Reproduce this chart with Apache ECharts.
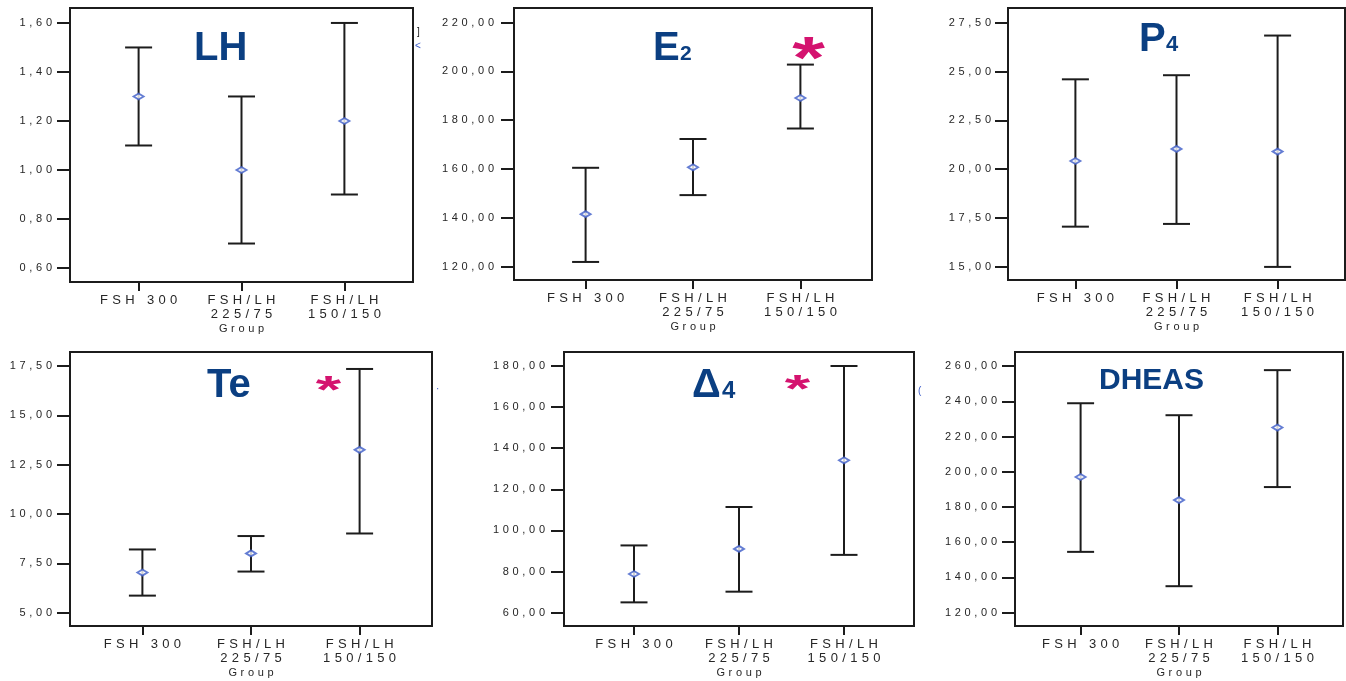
<!DOCTYPE html>
<html>
<head>
<meta charset="utf-8">
<title>Hormone levels by stimulation group</title>
<script src="https://cdn.jsdelivr.net/npm/echarts@6/dist/echarts.min.js"></script>
<style>
  html, body { margin: 0; padding: 0; background: #fff; }
  #chart { width: 1346px; height: 681px; }
</style>
</head>
<body>
<div id="chart"></div>
<script>
// Treatment groups on the x axis
const groups = ['FSH 300', 'FSH/LH\n225/75', 'FSH/LH\n150/150'];

// LH: mean with lower / upper interval bounds
const lhMean = [1.30, 1.00, 1.20];
const lhLow  = [1.10, 0.70, 0.90];
const lhHigh = [1.50, 1.30, 1.60];
const lhTicks = [0.60, 0.80, 1.00, 1.20, 1.40, 1.60];

// E2
const e2Mean = [141.5, 160.7, 189.1];
const e2Low  = [121.9, 149.3, 176.6];
const e2High = [160.5, 172.3, 202.8];
const e2Ticks = [120, 140, 160, 180, 200, 220];

// P4
const p4Mean = [20.42, 21.04, 20.90];
const p4Low  = [17.06, 17.20, 15.00];
const p4High = [24.60, 24.81, 26.84];
const p4Ticks = [15.0, 17.5, 20.0, 22.5, 25.0, 27.5];

// Testosterone
const teMean = [7.03, 8.00, 13.25];
const teLow  = [5.86, 7.08, 9.01];
const teHigh = [8.20, 8.88, 17.35];
const teTicks = [5.0, 7.5, 10.0, 12.5, 15.0, 17.5];

// Androstenedione
const a4Mean = [78.8, 91.0, 134.1];
const a4Low  = [65.0, 70.2, 88.1];
const a4High = [92.7, 111.4, 180.0];
const a4Ticks = [60, 80, 100, 120, 140, 160, 180];

// DHEAS
const dhMean = [197.0, 183.9, 225.1];
const dhLow  = [154.5, 135.0, 191.3];
const dhHigh = [238.9, 232.1, 257.7];
const dhTicks = [120, 140, 160, 180, 200, 220, 240, 260];

// Panel layout: grid rectangle, y extent, label offset
const panels = [
  { mean: lhMean, low: lhLow, high: lhHigh, ticks: lhTicks, yMin: 0.543, yMax: 1.661,
    grid: { left: 70, top: 8, width: 343, height: 274 }, labelMargin: 18 },
  { mean: e2Mean, low: e2Low, high: e2High, ticks: e2Ticks, yMin: 114.5, yMax: 226.0,
    grid: { left: 514, top: 8, width: 358, height: 272 }, labelMargin: 20 },
  { mean: p4Mean, low: p4Low, high: p4High, ticks: p4Ticks, yMin: 14.33, yMax: 28.25,
    grid: { left: 1008, top: 8, width: 337, height: 272 }, labelMargin: 17 },
  { mean: teMean, low: teLow, high: teHigh, ticks: teTicks, yMin: 4.32, yMax: 18.21,
    grid: { left: 70, top: 352, width: 362, height: 274 }, labelMargin: 18 },
  { mean: a4Mean, low: a4Low, high: a4High, ticks: a4Ticks, yMin: 53.5, yMax: 186.8,
    grid: { left: 564, top: 352, width: 350, height: 274 }, labelMargin: 19 },
  { mean: dhMean, low: dhLow, high: dhHigh, ticks: dhTicks, yMin: 112.4, yMax: 268.0,
    grid: { left: 1015, top: 352, width: 328, height: 274 }, labelMargin: 18 }
];

const FONT = '"Liberation Sans", Arial, sans-serif';
const INK = '#1c1c1c';
const LABEL = '#262626';
const TITLE_BLUE = '#0b3f82';
const STAR = '#d4136f';
const MARK_BLUE = '#3d5cc8';

// Spread characters apart for the wide-tracked axis lettering
function spaced(s) {
  return s.split('\n').map(line => Array.from(line).join('\u2004')).join('\n');
}
function decimalComma(v) {
  return v.toFixed(2).replace('.', ',');
}

// Vertical interval bar with end caps
function renderInterval(params, api) {
  const x = api.value(0);
  const lo = api.coord([x, api.value(1)]);
  const hi = api.coord([x, api.value(2)]);
  const half = 13.5;
  const style = { stroke: INK, lineWidth: 2 };
  return {
    type: 'group',
    children: [
      { type: 'line', shape: { x1: hi[0], y1: hi[1], x2: lo[0], y2: lo[1] }, style },
      { type: 'line', shape: { x1: hi[0] - half, y1: hi[1], x2: hi[0] + half, y2: hi[1] }, style },
      { type: 'line', shape: { x1: lo[0] - half, y1: lo[1], x2: lo[0] + half, y2: lo[1] }, style }
    ]
  };
}

const grid = [], xAxis = [], yAxis = [], series = [];
panels.forEach((p, i) => {
  grid.push(Object.assign({ show: true, borderColor: INK, borderWidth: 2, backgroundColor: '#fff' }, p.grid));
  xAxis.push({
    type: 'value', gridIndex: i, min: -2 / 3, max: 8 / 3,
    axisLine: { show: false, onZero: false }, splitLine: { show: false },
    axisTick: { show: true, inside: false, length: 9, customValues: [0, 1, 2],
                lineStyle: { color: INK, width: 2 } },
    axisLabel: {
      customValues: [0, 1, 2], margin: 11, color: LABEL, fontFamily: FONT, fontSize: 13,
      lineHeight: 14, formatter: v => spaced(groups[Math.round(v)] || '')
    },
    name: spaced('Group'),
    nameLocation: 'middle', nameGap: 41,
    nameTextStyle: { color: LABEL, fontFamily: FONT, fontSize: 11 }
  });
  yAxis.push({
    type: 'value', gridIndex: i, min: p.yMin, max: p.yMax,
    axisLine: { show: false, onZero: false }, splitLine: { show: false },
    axisTick: { show: true, inside: false, length: 13, customValues: p.ticks,
                lineStyle: { color: INK, width: 2 } },
    axisLabel: {
      customValues: p.ticks, margin: p.labelMargin, color: LABEL, fontFamily: FONT,
      fontSize: 11, formatter: v => spaced(decimalComma(v))
    }
  });
  series.push({
    type: 'custom', xAxisIndex: i, yAxisIndex: i, renderItem: renderInterval,
    encode: { x: 0, y: [1, 2] }, silent: true,
    data: p.mean.map((_, k) => [k, p.low[k], p.high[k]])
  });
  series.push({
    type: 'scatter', xAxisIndex: i, yAxisIndex: i, symbol: 'emptyDiamond',
    symbolSize: [10, 6], z: 5, silent: true,
    itemStyle: { color: MARK_BLUE, borderColor: MARK_BLUE, borderWidth: 1.5 },
    data: p.mean.map((m, k) => [k, m])
  });
});

// Panel headings, significance stars and small leftover marks
function heading(text, x, y, size) {
  return { type: 'text', left: x, top: y - size * 0.5, z: 10, silent: true,
    style: { text, fill: TITLE_BLUE, font: 'bold ' + size + 'px ' + FONT } };
}
function star(cx, cy, size, sx, sy) {
  return { type: 'text', x: cx, y: cy, scaleX: sx, scaleY: sy, z: 10, silent: true,
    style: { text: '*', x: 0, y: 0, align: 'center', verticalAlign: 'middle',
             fill: STAR, font: 'bold ' + size + 'px ' + FONT } };
}
function speck(text, x, y, color) {
  return { type: 'text', left: x, top: y, z: 10, silent: true,
    style: { text, fill: color, font: '10px ' + FONT } };
}

const graphic = [
  heading('LH', 194, 49, 40),
  heading('E', 653, 49, 40), heading('2', 680, 54, 21),
  heading('P', 1139, 40, 40), heading('4', 1166, 45, 22),
  heading('Te', 207, 386, 40),
  heading('\u0394', 692, 386, 40), heading('4', 722, 391, 24),
  heading('DHEAS', 1099, 381, 30),
  star(808.5, 61.7, 60, 1.4, 1),
  star(328.5, 392.3, 45, 1.45, 0.85),
  star(797.5, 391.8, 45, 1.45, 0.85),
  speck(']', 417, 27, INK),
  speck('<', 415, 41, MARK_BLUE),
  speck('\u00b7', 436, 384, MARK_BLUE),
  speck('(', 918, 386, MARK_BLUE)
];

const chart = echarts.init(document.getElementById('chart'), null, { renderer: 'canvas' });
chart.setOption({
  animation: false,
  backgroundColor: '#fff',
  grid, xAxis, yAxis, series, graphic
});
</script>
</body>
</html>
